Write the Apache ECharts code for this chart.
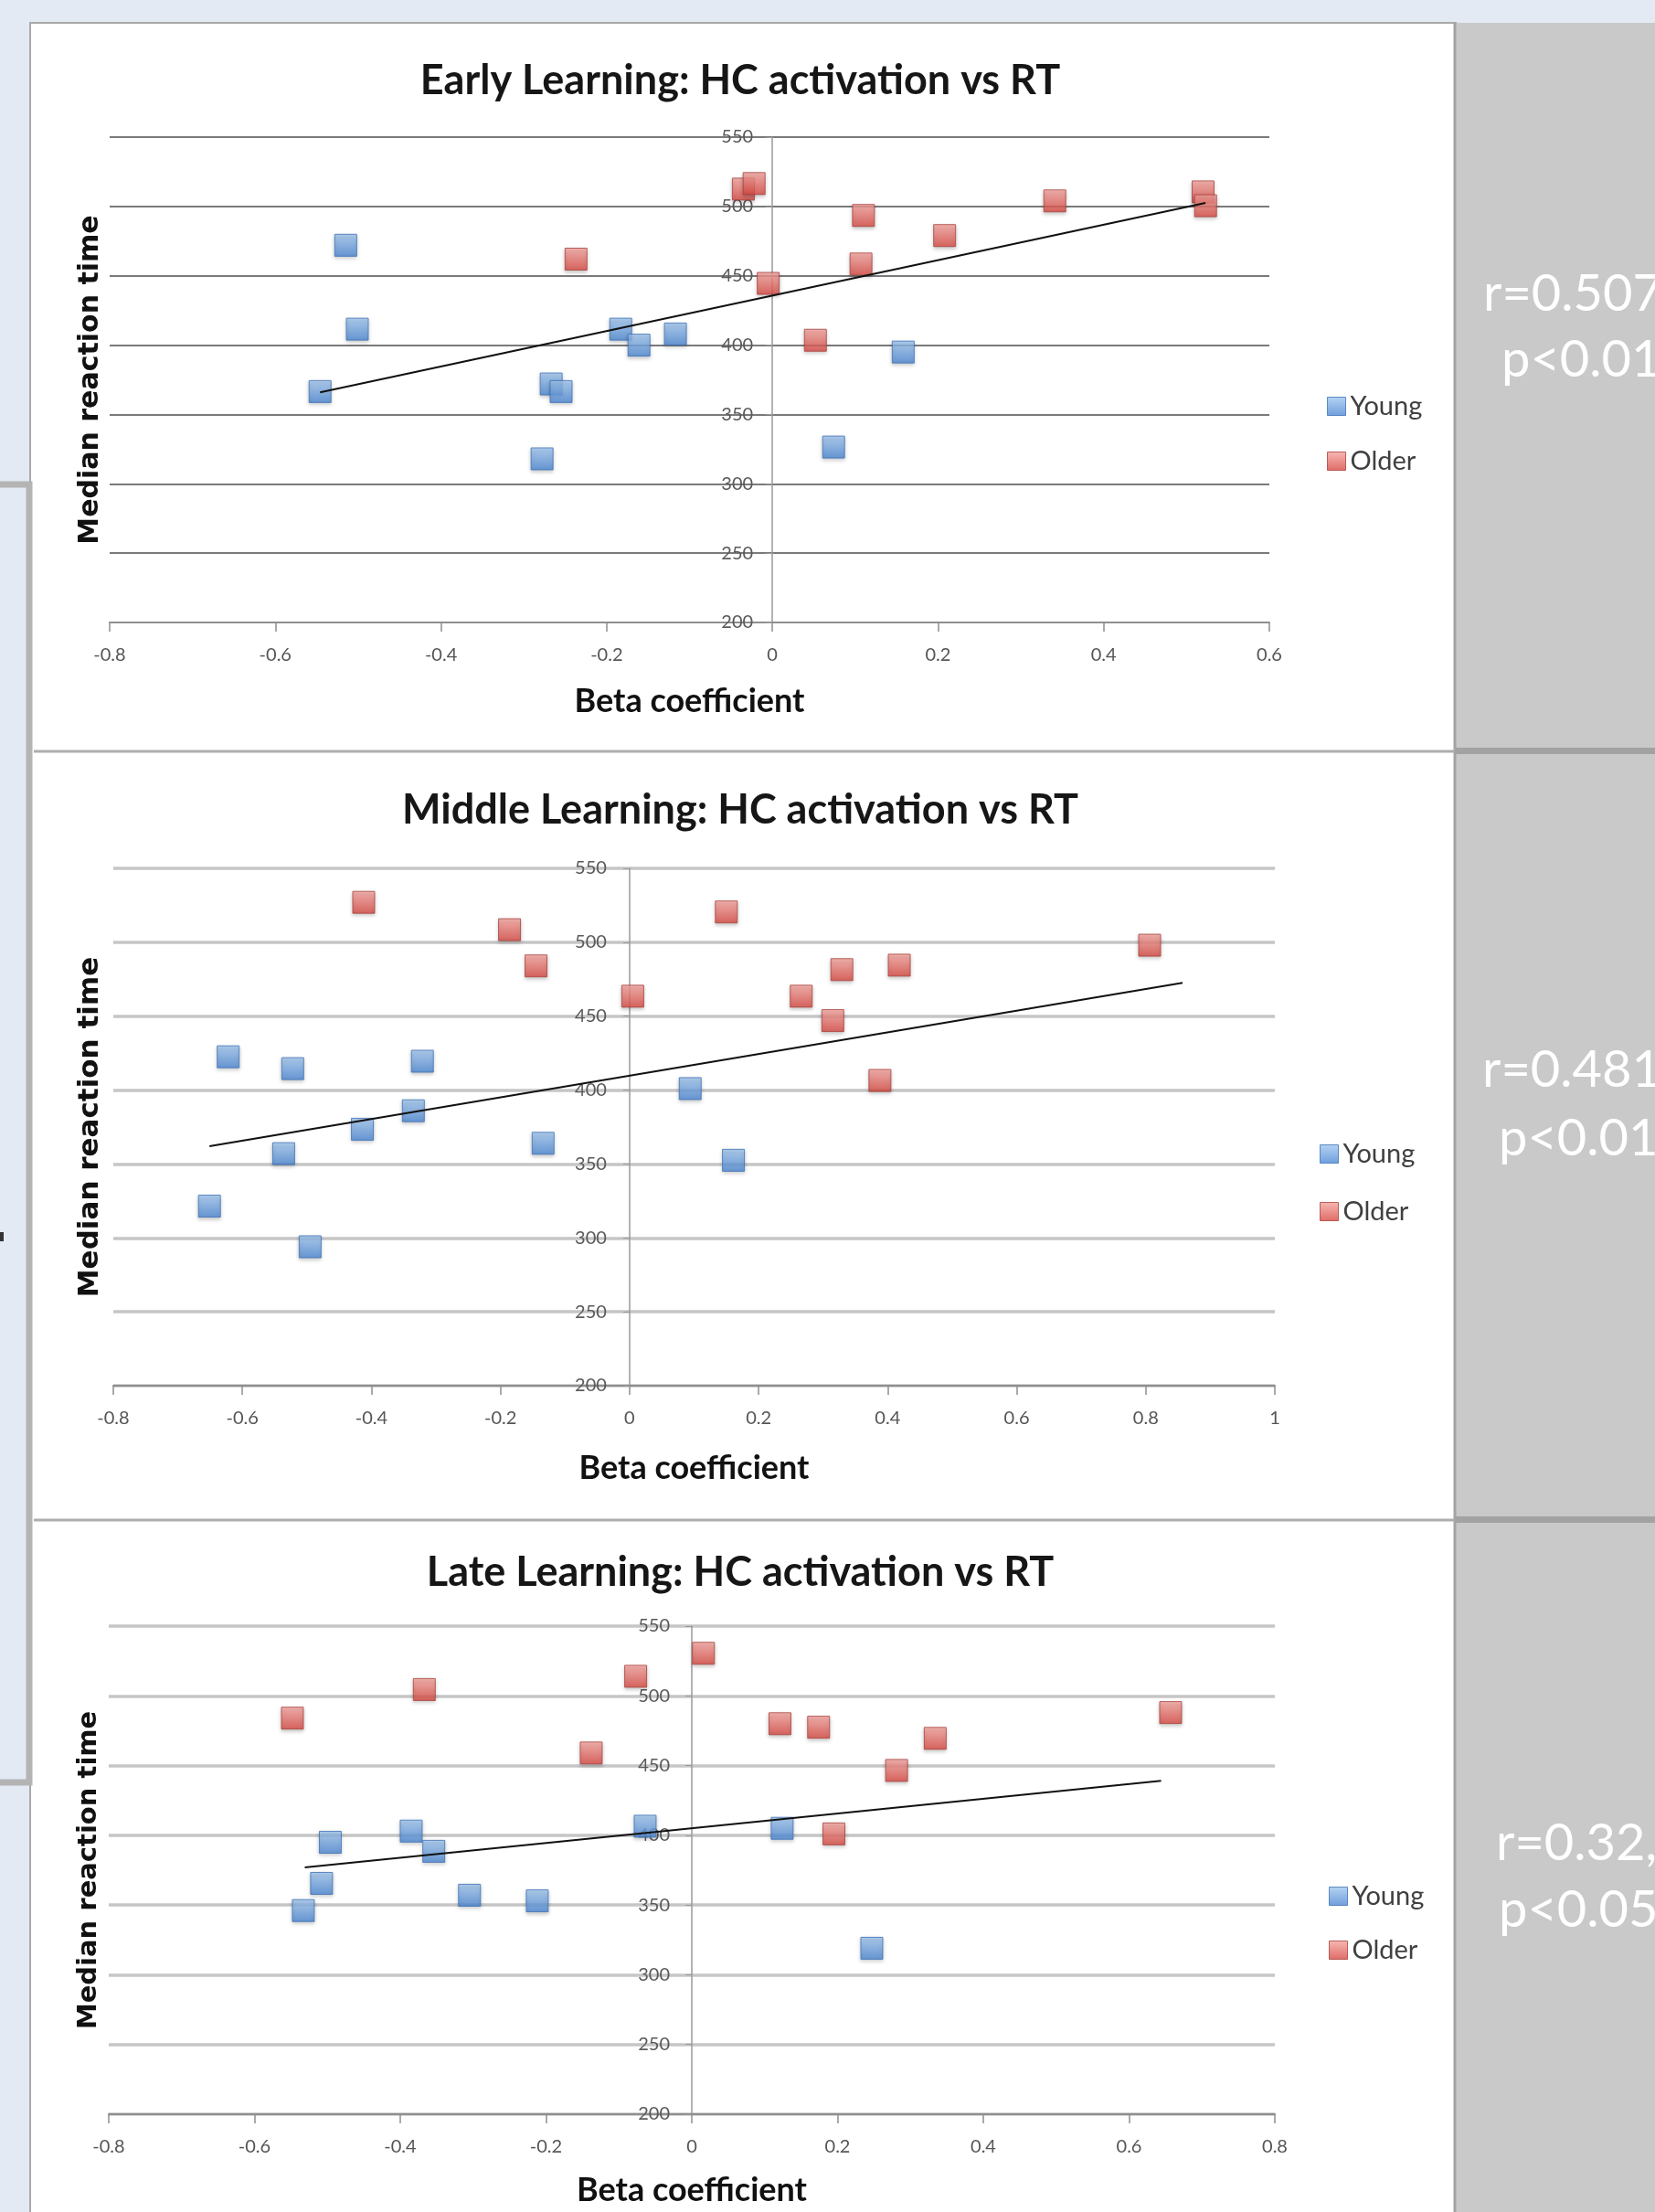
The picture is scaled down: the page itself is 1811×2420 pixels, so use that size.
<!DOCTYPE html>
<html><head><meta charset="utf-8">
<script src="https://cdn.jsdelivr.net/npm/echarts@6/dist/echarts.min.js"></script>
<style>html,body{margin:0;padding:0;background:#e3eaf4;}#chart{width:1811px;height:2420px;}</style>
</head><body><div id="chart"></div>
<script>
// ---------- DATA ----------
const titles = ['Early Learning: HC activation vs RT', 'Middle Learning: HC activation vs RT', 'Late Learning: HC activation vs RT'];
const seriesNames = ['Young', 'Older'];
const xAxisTitle = 'Beta coefficient';
const yAxisTitle = 'Median reaction time';
const xMin = [-0.8, -0.8, -0.8];
const xMax = [0.6, 1, 0.8];
const xStep = 0.2;
const yMin = 200, yMax = 550, yStep = 50;
const statR = ['r=0.507', 'r=0.481', 'r=0.32,'];
const statP = ['p<0.01', 'p<0.01', 'p<0.05'];

const earlyYoung = [[-0.515,472],[-0.501,411.5],[-0.546,366.5],[-0.267,372],[-0.255,366.5],[-0.278,318],[-0.183,411.5],[-0.161,400],[-0.117,408],[0.158,395],[0.074,326.5]];
const earlyOlder = [[-0.237,462],[-0.035,512.5],[-0.022,516.5],[-0.005,444.5],[0.052,403.5],[0.110,493.5],[0.107,458.5],[0.208,479],[0.341,504],[0.520,510.5],[0.523,500.5]];
const earlyTrend = [[-0.546,366],[0.523,502.5]];

const middleYoung = [[-0.622,422.5],[-0.522,414.5],[-0.321,419.5],[-0.335,386],[-0.414,373.5],[-0.536,357],[-0.651,321.5],[-0.495,294],[-0.134,364],[0.094,401],[0.161,352.5]];
const middleOlder = [[-0.412,527],[-0.186,508.5],[-0.145,484],[0.005,463.5],[0.150,520.5],[0.329,481.5],[0.418,484.5],[0.266,463.5],[0.315,447],[0.388,406.5],[0.806,498]];
const middleTrend = [[-0.651,362],[0.857,472.5]];

const lateYoung = [[-0.496,395],[-0.508,365.5],[-0.533,346],[-0.385,403],[-0.354,388.5],[-0.305,357],[-0.212,353],[-0.064,406.5],[0.124,405],[0.247,319]];
const lateOlder = [[-0.548,484],[-0.367,504.5],[-0.077,514],[-0.138,459],[0.016,530.5],[0.121,480],[0.174,477.5],[0.334,469.5],[0.281,446.5],[0.195,401],[0.657,488]];
const lateTrend = [[-0.531,377],[0.644,439]];

const youngSets = [earlyYoung, middleYoung, lateYoung];
const olderSets = [earlyOlder, middleOlder, lateOlder];
const trendSets = [earlyTrend, middleTrend, lateTrend];

// ---------- LAYOUT / STYLE ----------
const grids = [
  {left:120, top:150, width:1269, height:531},
  {left:124, top:950, width:1271, height:566},
  {left:119, top:1779, width:1276, height:534}
];
const gridLineStyle = [{color:'#7a7a7a', width:2},{color:'#c6c6c6', width:3.5},{color:'#c6c6c6', width:3.5}];
const yLabelMargin = [21, 25, 24];
const yNameGap = [731, 574, 645];
const yNameSize = [30, 31, 29];
const xNameGap = [68, 72, 65];
const titleY = [88, 886, 1720];
const legendPos = [{left:1452, top:430, gap:31},{left:1444, top:1248, gap:34},{left:1454, top:2060, gap:30}];
const statPos = [{rx:1623, ry:322, px:1643, py:394},{rx:1622, ry:1171, px:1640, py:1246},{rx:1637, ry:2017, px:1640, py:2090}];

function grad(top, bottom){
  return {type:'linear', x:0, y:0, x2:0, y2:1, colorStops:[{offset:0, color:top},{offset:1, color:bottom}]};
}
const blueStyle = {color: grad('#a3c8f0','#4a86d2'), borderColor:'#3d72b8', borderWidth:1, shadowBlur:4, shadowColor:'rgba(0,0,0,0.25)', shadowOffsetY:2};
const redStyle  = {color: grad('#f6a6a1','#d7463f'), borderColor:'#a9413c', borderWidth:1, shadowBlur:4, shadowColor:'rgba(0,0,0,0.25)', shadowOffsetY:2};

const xAxes = [], yAxes = [], series = [], legends = [], graphics = [];

// backgrounds
graphics.push({type:'rect', shape:{x:33, y:25, width:1560, height:2400}, style:{fill:'#ffffff', stroke:'#a9a9a9', lineWidth:2}, z:-20, silent:true});
graphics.push({type:'rect', shape:{x:1592, y:25, width:220, height:2400}, style:{fill:'#c9c9c9'}, z:-19, silent:true});
graphics.push({type:'line', shape:{x1:1592, y1:25, x2:1592, y2:2420}, style:{stroke:'#a3a3a3', lineWidth:3}, z:-18, silent:true});
[822, 1663].forEach(function(y){
  graphics.push({type:'line', shape:{x1:37, y1:y, x2:1592, y2:y}, style:{stroke:'#adadad', lineWidth:3}, z:-18, silent:true});
  graphics.push({type:'rect', shape:{x:1592, y:y-4, width:220, height:7}, style:{fill:'#a2a2a2'}, z:-18, silent:true});
});
graphics.push({type:'polyline', shape:{points:[[0,530],[32,530],[32,1950],[0,1950]]}, style:{stroke:'#b4b4b4', lineWidth:7, fill:null}, z:-17, silent:true});
graphics.push({type:'rect', shape:{x:0, y:1348, width:4, height:10}, style:{fill:'#333'}, z:-16, silent:true});

for (let i = 0; i < 3; i++) {
  const g = grids[i];
  // distance from the grid's left edge to x = 0, so the y axis sits on x = 0 as in the reference
  const zeroOffset = (0 - xMin[i]) / (xMax[i] - xMin[i]) * g.width;
  xAxes.push({
    type:'value', gridIndex:i, min:xMin[i], max:xMax[i], interval:xStep,
    name:xAxisTitle, nameLocation:'middle', nameGap:xNameGap[i],
    nameTextStyle:{fontFamily:'Lato', fontWeight:'bold', fontSize:36, color:'#111'},
    axisLine:{show:true, onZero:false, lineStyle:{color:'#8f8f8f', width:2}},
    axisTick:{show:true, length:10, lineStyle:{color:'#8f8f8f', width:1.5}},
    axisLabel:{margin:26, fontFamily:'Lato', fontSize:20, color:'#555'},
    splitLine:{show:false}
  });
  yAxes.push({
    type:'value', gridIndex:i, min:yMin, max:yMax, interval:yStep, position:'left', offset:-zeroOffset,
    name:yAxisTitle, nameLocation:'middle', nameRotate:90, nameGap:yNameGap[i],
    nameTextStyle:{fontFamily:'DejaVu Sans', fontWeight:'bold', fontSize:yNameSize[i], color:'#111'},
    axisLine:{show:true, onZero:false, lineStyle:{color:'#9a9a9a', width:1.5}},
    axisTick:{show:true, length:7, lineStyle:{color:'#9a9a9a'}},
    axisLabel:{margin:yLabelMargin[i], fontFamily:'Lato', fontSize:20, color:'#5a5a5a', padding:[10,0,0,0]},
    splitLine:{show:true, lineStyle:gridLineStyle[i]}
  });
  series.push({type:'scatter', name:seriesNames[0], xAxisIndex:i, yAxisIndex:i, data:youngSets[i], symbol:'rect', symbolSize:24, itemStyle:blueStyle, z:3});
  series.push({type:'scatter', name:seriesNames[1], xAxisIndex:i, yAxisIndex:i, data:olderSets[i], symbol:'rect', symbolSize:24, itemStyle:redStyle, z:3});
  series.push({type:'line', name:'Linear trend', xAxisIndex:i, yAxisIndex:i, data:trendSets[i], symbol:'none', lineStyle:{color:'#111', width:2}, z:5, silent:true});
  legends.push({
    orient:'vertical', left:legendPos[i].left, top:legendPos[i].top, itemGap:legendPos[i].gap, padding:0,
    itemWidth:20, itemHeight:20, icon:'rect', selectedMode:false,
    data:[
      {name:seriesNames[0], itemStyle:{color:grad('#a3c8f0','#4a86d2'), borderColor:'#3d72b8', borderWidth:1}},
      {name:seriesNames[1], itemStyle:{color:grad('#f6a6a1','#d7463f'), borderColor:'#a9413c', borderWidth:1}}
    ],
    textStyle:{fontFamily:'Lato', fontSize:29, color:'#404040'}
  });
  graphics.push({type:'text', x:810, y:titleY[i], style:{text:titles[i], fontFamily:'Lato', fontWeight:'bold', fontSize:45, fill:'#161616', textAlign:'center', textVerticalAlign:'middle'}, z:10});
  graphics.push({type:'text', x:statPos[i].rx, y:statPos[i].ry, style:{text:statR[i], fontFamily:'Lato', fontSize:56, fill:'#ffffff', textAlign:'left', textVerticalAlign:'middle'}, z:10});
  graphics.push({type:'text', x:statPos[i].px, y:statPos[i].py, style:{text:statP[i], fontFamily:'Lato', fontSize:56, fill:'#ffffff', textAlign:'left', textVerticalAlign:'middle'}, z:10});
}

const chart = echarts.init(document.getElementById('chart'), null, {renderer:'canvas'});
chart.setOption({
  backgroundColor:'#e3eaf4',
  animation:false,
  grid: grids.map(function(g){ return Object.assign({containLabel:false, outerBoundsMode:'none'}, g); }),
  xAxis: xAxes,
  yAxis: yAxes,
  legend: legends,
  series: series,
  graphic: graphics
});
</script></body></html>
